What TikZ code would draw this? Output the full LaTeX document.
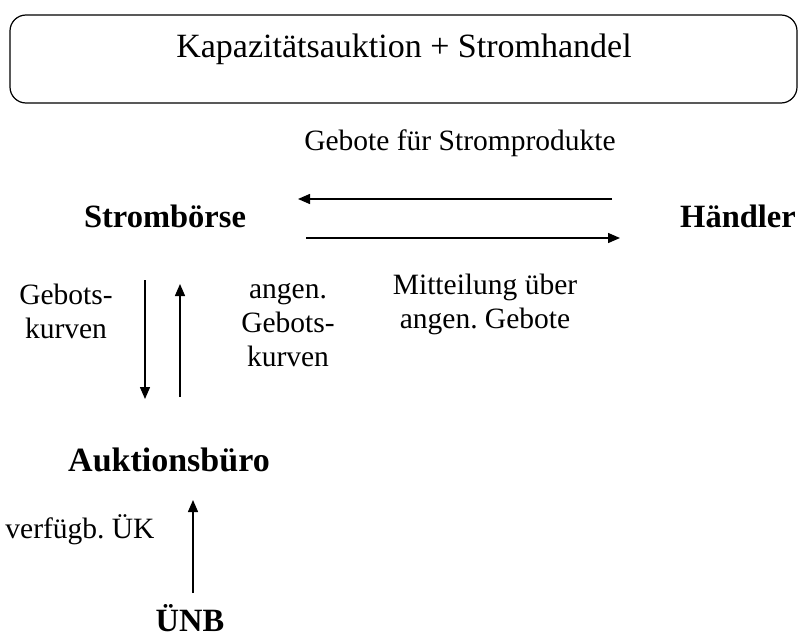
\documentclass[tikz,border=0pt]{standalone}
\usepackage{fontspec}
\setmainfont{Liberation Serif}
\usetikzlibrary{arrows.meta}
\frenchspacing
\begin{document}
\begin{tikzpicture}[x=1pt,y=-1pt,
  lbl/.style={inner sep=0pt,align=center,font=\fontsize{29.5}{34}\selectfont},
  actor/.style={inner sep=0pt,font=\fontsize{32.5}{36}\selectfont\bfseries},
  flow/.style={line width=1.4pt,-{Triangle[length=12pt,width=10pt]}},
  frame/.style={draw,line width=1.2pt,rounded corners=16pt}]
\useasboundingbox (0,0) rectangle (800,637);
% title box
\node[frame,minimum width=787pt,minimum height=88pt,inner sep=0pt] (box) at (403.5,59) {};
\node[inner sep=0pt,anchor=base,font=\fontsize{34}{40}\selectfont] (title) at (404,57) {Kapazitätsauktion + Stromhandel};
% actors
\node[actor,anchor=base] (sb) at (165,227) {Strombörse};
\node[actor,anchor=base] (hd) at (738,227) {Händler};
\node[actor,anchor=base,font=\fontsize{34}{38}\selectfont\bfseries] (ab) at (169,471) {Auktionsbüro};
\node[actor,anchor=base] (unb) at (190,631) {ÜNB};
% labels
\node[lbl,anchor=base] (gfs) at (460,150) {Gebote für Stromprodukte};
\node[lbl] (gk) at (66,311) {Gebots-\\kurven};
\node[lbl] (agk) at (288,325) {angen.\\Gebots-\\kurven};
\node[lbl] (mag) at (485,304) {Mitteilung über\\angen. Gebote};
\node[lbl,anchor=base] (vk) at (80,538) {verfügb. ÜK};
% arrow end points
\coordinate (a1s) at (612,199);
\coordinate (a1e) at (298,199);
\coordinate (a2s) at (306,238);
\coordinate (a2e) at (620,238);
\coordinate (a3s) at (145,280);
\coordinate (a3e) at (145,399);
\coordinate (a4s) at (180,397);
\coordinate (a4e) at (180,284);
\coordinate (a5s) at (193,593);
\coordinate (a5e) at (193,500);
\draw[flow] (a1s) -- (a1e);
\draw[flow] (a2s) -- (a2e);
\draw[flow] (a3s) -- (a3e);
\draw[flow] (a4s) -- (a4e);
\draw[flow] (a5s) -- (a5e);
\end{tikzpicture}
\end{document}
